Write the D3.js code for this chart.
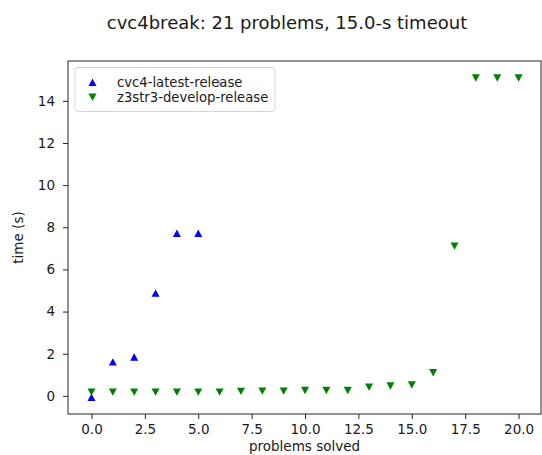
<!DOCTYPE html>
<html>
<head>
<meta charset="utf-8">
<script src="https://cdn.jsdelivr.net/npm/d3@7"></script>
<style>
  body { margin: 0; background: #fff; }
  text { font-family: "DejaVu Sans", sans-serif; fill: #1a1a1a; }
</style>
</head>
<body>
<svg id="chart" width="542" height="455"></svg>
<script>
const titleText = "cvc4break: 21 problems, 15.0-s timeout";
const xLabel = "problems solved";
const yLabel = "time (s)";
const seriesNames = ["cvc4-latest-release", "z3str3-develop-release"];
const seriesColors = ["#0000ff", "#008000"];
const cvc4Times = [-0.08, 1.60, 1.83, 4.86, 7.70, 7.70, 14.85];
const z3str3Times = [0.19, 0.19, 0.19, 0.19, 0.19, 0.19, 0.19, 0.23, 0.24, 0.24, 0.27, 0.27, 0.27, 0.43, 0.48, 0.53, 1.11, 7.12, 15.1, 15.1, 15.1];
const xTicks = [0, 2.5, 5, 7.5, 10, 12.5, 15, 17.5, 20];
const yTicks = [0, 2, 4, 6, 8, 10, 12, 14];

const svg = d3.select("#chart");
const frame = {left: 68, right: 541, top: 61, bottom: 414};

const x = d3.scaleLinear().domain([-1.1, 21.05]).range([frame.left, frame.right]);
const y = d3.scaleLinear().domain([-0.86, 15.89]).range([frame.bottom, frame.top]);

// title
svg.append("text").attr("x", 287).attr("y", 29).attr("text-anchor", "middle")
  .style("font-size", "18px").text(titleText);

// axes
const xAxis = d3.axisBottom(x).tickValues(xTicks).tickFormat(d3.format(".1f")).tickSizeOuter(0).tickSize(5).tickPadding(5);
const yAxis = d3.axisLeft(y).tickValues(yTicks).tickFormat(d3.format("d")).tickSizeOuter(0).tickSize(5).tickPadding(8);

const gx = svg.append("g").attr("transform", `translate(0,${frame.bottom})`).call(xAxis);
const gy = svg.append("g").attr("transform", `translate(${frame.left},0)`).call(yAxis);
[gx, gy].forEach(g => {
  g.select(".domain").remove();
  g.selectAll(".tick line").attr("stroke", "#262626").attr("stroke-width", 1);
  g.selectAll(".tick text").style("font-size", "13.5px").style("font-family", "DejaVu Sans").attr("fill", "#1a1a1a");
});

// frame
svg.append("rect").attr("x", frame.left).attr("y", frame.top)
  .attr("width", frame.right - frame.left).attr("height", frame.bottom - frame.top)
  .attr("fill", "none").attr("stroke", "#262626").attr("stroke-width", 1);

// axis labels
svg.append("text").attr("x", (frame.left + frame.right) / 2).attr("y", 451).attr("text-anchor", "middle")
  .style("font-size", "13.5px").text(xLabel);
svg.append("text").attr("transform", `translate(23,${(frame.top + frame.bottom) / 2}) rotate(-90)`)
  .attr("text-anchor", "middle").style("font-size", "13.5px").text(yLabel);

// markers
const up = "M0,-4L4,3.4L-4,3.4Z";
const down = "M0,4L4,-3.4L-4,-3.4Z";

const plot = svg.append("g");
plot.selectAll(".cvc4").data(cvc4Times).join("path")
  .attr("d", up).attr("fill", seriesColors[0])
  .attr("transform", (d, i) => `translate(${x(i)},${y(d)})`);
plot.selectAll(".z3").data(z3str3Times).join("path")
  .attr("d", down).attr("fill", seriesColors[1])
  .attr("transform", (d, i) => `translate(${x(i)},${y(d)})`);

// legend
const lg = svg.append("g");
lg.append("rect").attr("x", 75).attr("y", 67.5).attr("width", 200).attr("height", 44)
  .attr("rx", 3).attr("fill", "#ffffff").attr("fill-opacity", 0.8)
  .attr("stroke", "#cccccc").attr("stroke-opacity", 0.8);
const markers = [up, down];
seriesNames.forEach((name, i) => {
  const yy = 82.5 + i * 14.5;
  lg.append("path").attr("d", markers[i]).attr("fill", seriesColors[i])
    .attr("transform", `translate(92.5,${yy})`);
  lg.append("text").attr("x", 117).attr("y", yy + 4.5).style("font-size", "13.2px").text(name);
});
</script>
</body>
</html>
